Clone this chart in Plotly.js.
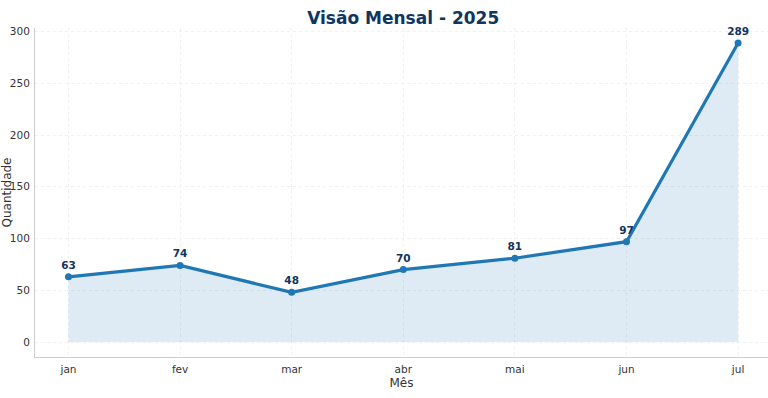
<!DOCTYPE html>
<html><head><meta charset="utf-8">
<script src="https://cdn.plot.ly/plotly-3.0.1.min.js"></script>
<style>html,body{margin:0;padding:0;background:#fff}#c{width:768px;height:398px}</style>
</head><body><div id="c"></div>
<script>
const months = ["jan","fev","mar","abr","mai","jun","jul"];
const values = [63, 74, 48, 70, 81, 97, 289];
const titleText = "Visão Mensal - 2025";
const xTitle = "Mês";
const yTitle = "Quantidade";

const trace = {
  x: months.map((m,i)=>i),
  y: values,
  type: "scatter",
  mode: "lines+markers+text",
  fill: "tozeroy",
  fillcolor: "rgba(31,119,180,0.15)",
  line: {color: "#1f77b4", width: 3.2},
  marker: {color: "#1f77b4", size: 7},
  text: values.map(String),
  textposition: "top center",
  textfont: {family: "DejaVu Sans", size: 10.5, color: "#0f3560", weight: "bold"},
  cliponaxis: false,
  hoverinfo: "skip"
};

const layout = {
  width: 768, height: 398,
  margin: {l: 35, r: 0, t: 28, b: 41},
  paper_bgcolor: "#fff", plot_bgcolor: "#fff",
  font: {family: "DejaVu Sans", color: "#333"},
  showlegend: false,
  title: {text: titleText, font: {family: "DejaVu Sans", size: 17, color: "#0f3560", weight: "bold"}, x: 0.525, xanchor: "center", y: 0.955, yanchor: "middle"},
  xaxis: {
    range: [-0.3, 6.268],
    tickmode: "array", tickvals: months.map((m,i)=>i), ticktext: months,
    tickfont: {size: 10.5, color: "#333"},
    ticks: "", ticklabelstandoff: 2, showline: true, linecolor: "#ccc", linewidth: 1,
    showgrid: true, gridcolor: "#f0f0f0", griddash: "dot", gridwidth: 1,
    zeroline: false,
    title: {text: xTitle, font: {size: 12, color: "#333"}, standoff: 5}
  },
  yaxis: {
    range: [-14.45, 303.45],
    tickvals: [0,50,100,150,200,250,300],
    tickfont: {size: 10.5, color: "#333"},
    ticks: "", ticklen: 0, ticklabelstandoff: 2, showline: true, linecolor: "#ccc", linewidth: 1,
    showgrid: true, gridcolor: "#f0f0f0", griddash: "dot", gridwidth: 1,
    zeroline: false,
    automargin: false,
    title: {text: yTitle, font: {size: 12, color: "#333"}, standoff: 9}
  }
};
Plotly.newPlot("c", [trace], layout, {displayModeBar: false, staticPlot: true});
</script></body></html>
